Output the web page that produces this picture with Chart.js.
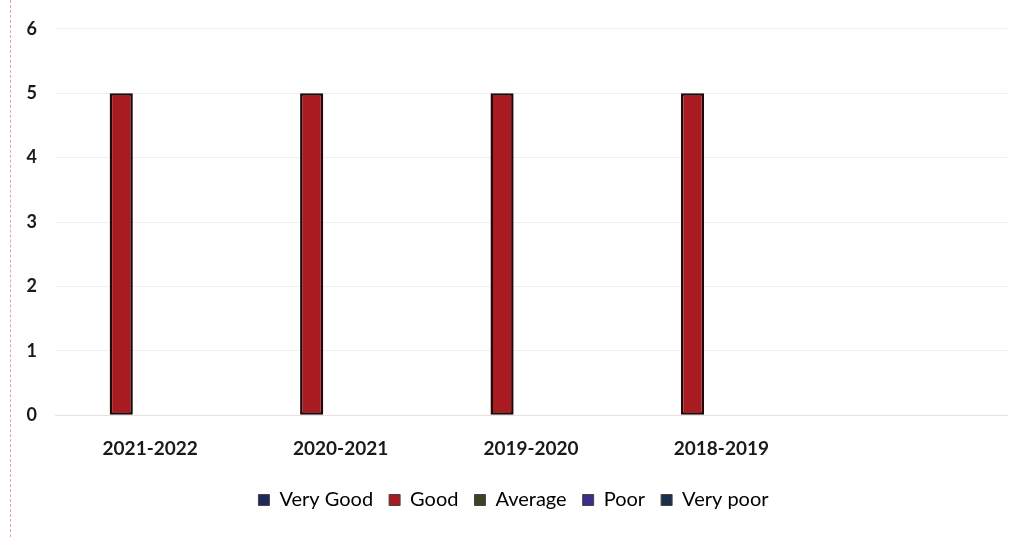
<!DOCTYPE html>
<html>
<head>
<meta charset="utf-8">
<script src="https://cdn.jsdelivr.net/npm/chart.js@4"></script>
<style>
  html, body { margin: 0; padding: 0; background: #fff; }
  #wrap { position: relative; width: 1024px; height: 537px; }
  #edge { position: absolute; left: 10px; top: 0; height: 537px; border-left: 1px dashed #e4a4a4; }
</style>
</head>
<body>
<div id="wrap">
  <div id="edge"></div>
  <canvas id="bieuDo" width="1024" height="537"></canvas>
</div>
<script>
// categories (last slot is empty in the original)
const years = ['2021-2022', '2020-2021', '2019-2020', '2018-2019', ''];

const veryGood = [0, 0, 0, 0, null];
const good = [5, 5, 5, 5, null];
const average = [0, 0, 0, 0, null];
const poor = [0, 0, 0, 0, null];
const veryPoor = [0, 0, 0, 0, null];

const yTicks = [0, 1, 2, 3, 4, 5, 6];

function lamSeries(label, values, color, border) {
    return {
        label: label,
        data: values,
        backgroundColor: color,
        borderColor: '#220808',
        borderWidth: border,
        borderSkipped: false,
        categoryPercentage: 0.76,
        barPercentage: 0.8
    };
}

const data = {
    labels: years,
    datasets: [
        lamSeries('Very Good', veryGood, '#1f2a5c', 0),
        lamSeries('Good', good, '#a81b20', 2.5),
        lamSeries('Average', average, '#3a4420', 0),
        lamSeries('Poor', poor, '#3c2c8c', 0),
        lamSeries('Very poor', veryPoor, '#1b2e4c', 0)
    ]
};

const config = {
    type: 'bar',
    data: data,
    options: {
        responsive: false,
        animation: false,
        layout: { padding: { left: 20, right: 17, top: 22, bottom: 17 } },
        plugins: {
            tooltip: { enabled: false },
            legend: {
                position: 'bottom',
                labels: {
                    boxWidth: 11,
                    boxHeight: 11,
                    padding: 16,
                    color: '#222',
                    font: { family: 'Lato', size: 20 },
                    generateLabels: function (chart) {
                        return chart.data.datasets.map(function (ds, i) {
                            return {
                                text: ds.label,
                                fillStyle: ds.backgroundColor,
                                strokeStyle: '#444',
                                lineWidth: 1,
                                datasetIndex: i
                            };
                        });
                    }
                }
            }
        },
        scales: {
            x: {
                grid: { display: false },
                border: { color: '#eedede' },
                ticks: {
                    color: '#1a1a1a',
                    padding: 14,
                    font: { family: 'Lato', size: 19, weight: 'bold' }
                }
            },
            y: {
                min: 0,
                max: 6,
                afterFit: function (scale) { scale.width = 35; },
                afterBuildTicks: function (scale) {
                    scale.ticks = yTicks.map(v => ({ value: v }));
                },
                border: { display: false },
                grid: { color: '#efefef', drawTicks: false },
                ticks: {
                    color: '#1a1a1a',
                    padding: 18,
                    font: { family: 'Lato', size: 18, weight: 'bold' }
                }
            }
        }
    }
};

let bieuDo = document.getElementById('bieuDo').getContext('2d');
new Chart(bieuDo, config);
</script>
</body>
</html>
